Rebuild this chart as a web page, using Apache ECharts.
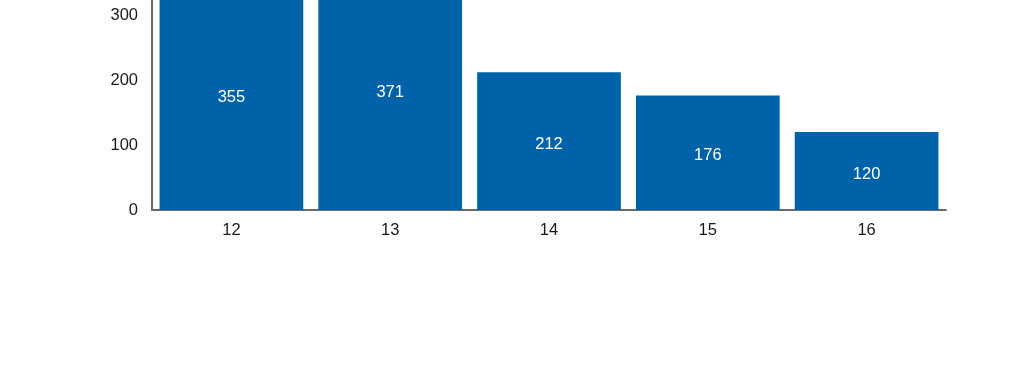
<!DOCTYPE html>
<html><head><meta charset="utf-8">
<script src="https://cdn.jsdelivr.net/npm/echarts@6/dist/echarts.min.js"></script>
<style>html,body{margin:0;padding:0;background:#fff;overflow:hidden;width:1024px;height:384px}#c{position:absolute;left:0;top:-50px;width:1024px;height:434px}</style>
</head><body><div id="c"></div>
<script>
const categories = ['12', '13', '14', '15', '16'];
const values = [355, 371, 212, 176, 120];
const yTicks = [0, 100, 200, 300, 400];

const chart = echarts.init(document.getElementById('c'));
chart.setOption({
  animation: false,
  grid: { left: 152, right: 78, top: 0, bottom: 174, containLabel: false, outerBoundsMode: 'none' },
  xAxis: {
    type: 'category', data: categories,
    axisLine: { lineStyle: { color: '#6b6b6b', width: 2 } },
    axisTick: { show: false },
    axisLabel: { color: '#1a1a1a', fontFamily: 'Liberation Sans', fontSize: 16.5, margin: 12 }
  },
  yAxis: {
    type: 'value', min: yTicks[0], max: yTicks[yTicks.length - 1], interval: 100,
    axisLine: { show: true, lineStyle: { color: '#6b6b6b', width: 2 } },
    axisTick: { show: false },
    splitLine: { show: false },
    axisLabel: { color: '#1a1a1a', fontFamily: 'Liberation Sans', fontSize: 16.5, margin: 14 }
  },
  series: [{
    type: 'bar', data: values, barCategoryGap: '9.5%',
    itemStyle: { color: '#0062a8' },
    label: { show: true, position: 'inside', offset: [0, 3], color: '#ffffff', fontFamily: 'Liberation Sans', fontSize: 16.5 }
  }]
});
</script></body></html>
